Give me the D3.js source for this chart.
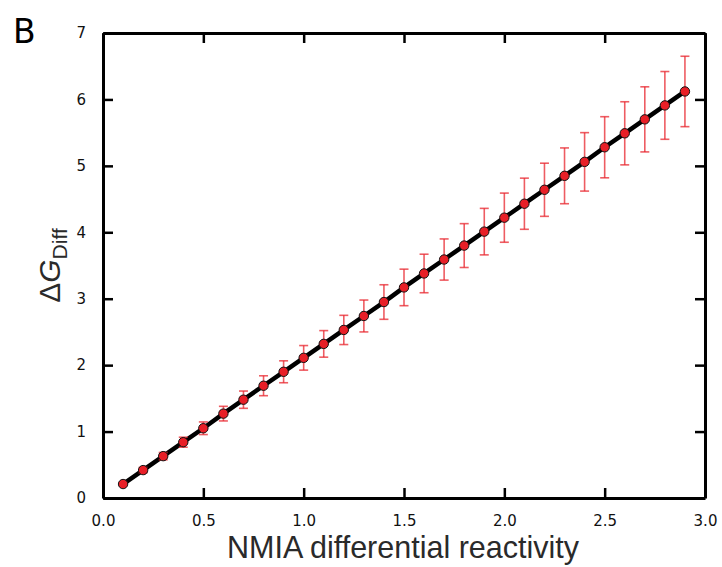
<!DOCTYPE html>
<html><head><meta charset="utf-8">
<script src="https://cdn.jsdelivr.net/npm/d3@7"></script>
<style>html,body{margin:0;padding:0;background:#fff}</style>
</head><body>
<script>
const xValues = [0.1,0.2,0.3,0.4,0.5,0.6,0.7,0.8,0.9,1.0,1.1,1.2,1.3,1.4,1.5,1.6,1.7,1.8,1.9,2.0,2.1,2.2,2.3,2.4,2.5,2.6,2.7,2.8,2.9];
const yValues = [0.21,0.42,0.63,0.84,1.05,1.27,1.48,1.69,1.90,2.11,2.32,2.53,2.74,2.95,3.17,3.38,3.59,3.80,4.01,4.22,4.43,4.64,4.85,5.06,5.28,5.49,5.70,5.91,6.12];
const yErrors = [0.02,0.04,0.055,0.075,0.095,0.11,0.13,0.15,0.165,0.185,0.20,0.22,0.24,0.26,0.275,0.29,0.31,0.33,0.35,0.37,0.385,0.40,0.42,0.44,0.46,0.475,0.49,0.51,0.53];
const xTicks = [0.0,0.5,1.0,1.5,2.0,2.5,3.0];
const yTicks = [0,1,2,3,4,5,6,7];

const W = 722, H = 567;
const m = {left:103, right:17, top:33, bottom:69};
const svg = d3.select("body").append("svg").attr("width",W).attr("height",H);
const x = d3.scaleLinear().domain([0,3]).range([m.left, W-m.right]);
const y = d3.scaleLinear().domain([0,7]).range([H-m.bottom, m.top]);
const tickFont = "'DejaVu Sans', sans-serif";

// axes ticks inward on all four sides
const gB = svg.append("g").attr("transform",`translate(0,${H-m.bottom})`)
  .call(d3.axisBottom(x).tickValues(xTicks).tickFormat(d3.format(".1f")).tickSizeInner(-10).tickSizeOuter(0).tickPadding(17));
const gT = svg.append("g").attr("transform",`translate(0,${m.top})`)
  .call(d3.axisTop(x).tickValues(xTicks).tickFormat("").tickSizeInner(-10).tickSizeOuter(0));
const gL = svg.append("g").attr("transform",`translate(${m.left},0)`)
  .call(d3.axisLeft(y).tickValues(yTicks).tickFormat(d3.format("d")).tickSizeInner(-10).tickSizeOuter(0).tickPadding(17));
const gR = svg.append("g").attr("transform",`translate(${W-m.right},0)`)
  .call(d3.axisRight(y).tickValues(yTicks).tickFormat("").tickSizeInner(-10).tickSizeOuter(0));
[gB,gT,gL,gR].forEach(g=>{
  g.select(".domain").attr("stroke","#000").attr("stroke-width",3);
  g.selectAll(".tick line").attr("stroke","#000").attr("stroke-width",2.5);
  g.selectAll(".tick text").attr("font-family",tickFont).attr("font-size",15).attr("fill","#111");
});

// line
svg.append("path").datum(xValues.map((d,i)=>[d,yValues[i]]))
  .attr("fill","none").attr("stroke","#000").attr("stroke-width",4.5)
  .attr("d", d3.line().x(d=>x(d[0])).y(d=>y(d[1])));

// error bars
const eb = svg.append("g").attr("stroke","#e8262d").attr("stroke-opacity",0.75).attr("stroke-width",1.6);
xValues.forEach((xv,i)=>{
  const lo = y(yValues[i]-yErrors[i]), hi = y(yValues[i]+yErrors[i]), cx = x(xv);
  eb.append("line").attr("x1",cx).attr("x2",cx).attr("y1",lo).attr("y2",hi);
  eb.append("line").attr("x1",cx-4.5).attr("x2",cx+4.5).attr("y1",lo).attr("y2",lo);
  eb.append("line").attr("x1",cx-4.5).attr("x2",cx+4.5).attr("y1",hi).attr("y2",hi);
});

// markers
svg.append("g").selectAll("circle").data(xValues).join("circle")
  .attr("cx",d=>x(d)).attr("cy",(d,i)=>y(yValues[i])).attr("r",4.7)
  .attr("fill","#e81f27").attr("stroke","#111").attr("stroke-width",1);

// axis titles
svg.append("text").attr("x",403).attr("y",558).attr("text-anchor","middle")
  .attr("font-family","'Liberation Sans', Arial, sans-serif").attr("font-size",30.5).attr("fill","#2a2a2a")
  .text("NMIA differential reactivity");
const yl = svg.append("text").attr("transform",`translate(60,${(m.top+H-m.bottom)/2}) rotate(-90)`)
  .attr("text-anchor","middle").attr("font-family","'Liberation Sans', Arial, sans-serif").attr("font-size",30).attr("fill","#2a2a2a");
yl.append("tspan").text("\u0394");
yl.append("tspan").attr("font-style","italic").text("G");
yl.append("tspan").attr("font-size",21).attr("dy",7).text("Diff");

svg.append("text").attr("x",13).attr("y",43).attr("font-family","'DejaVu Sans', sans-serif").attr("font-size",33).attr("fill","#000").text("B");
</script>
</body></html>
